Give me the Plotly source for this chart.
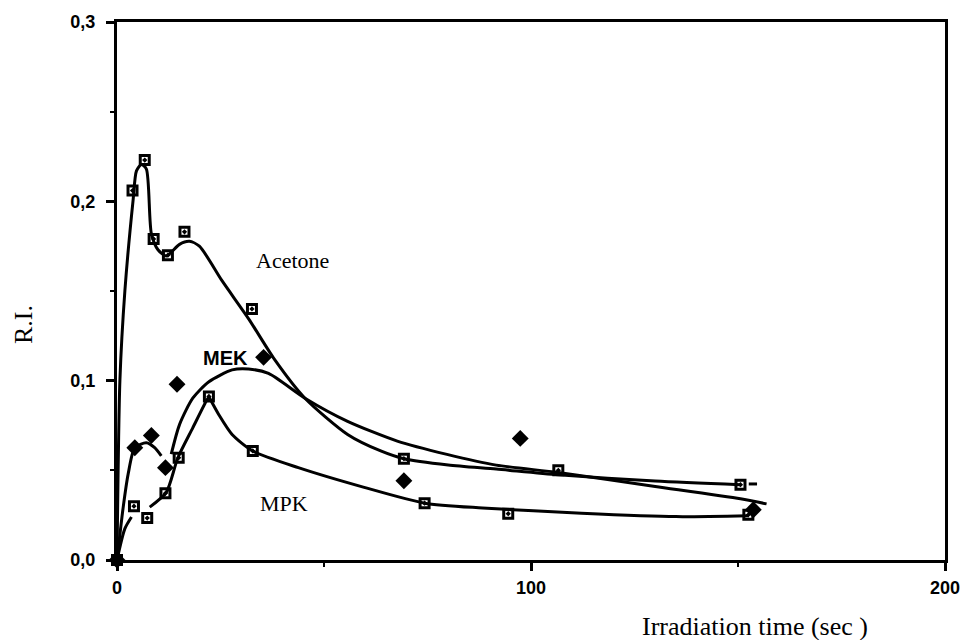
import plotly.graph_objects as go

# ---- measured data points ----
acetone_t = [0, 3.75, 6.7, 8.85, 12.3, 16.3, 32.6, 69.3, 106.6, 150.6]
acetone_ri = [0, 0.206, 0.223, 0.179, 0.170, 0.183, 0.140, 0.0565, 0.050, 0.042]

mpk_t = [0, 4.1, 7.3, 11.7, 14.9, 22.2, 32.8, 74.3, 94.5, 152.5]
mpk_ri = [0, 0.030, 0.0234, 0.0372, 0.057, 0.0912, 0.0608, 0.0317, 0.0258, 0.0252]

mek_t = [0, 4.3, 8.3, 11.7, 14.5, 35.4, 69.3, 97.4, 153.7]
mek_ri = [0, 0.0626, 0.0694, 0.0515, 0.098, 0.113, 0.0442, 0.0678, 0.028]

# ---- hand-drawn fitted curves ----
acetone_fit_t = [0, 0.7, 1.9, 3.9, 4.7, 5.9, 7.1, 8.3, 9.9, 11.9, 15.1, 17.5, 19.9,
                 25.4, 31.8, 38, 45.4, 55.7, 63.7, 69.3, 80, 91.6, 106.6, 130, 150.6,
                 None, 152.6, 154.6]
acetone_fit_ri = [0, 0.10, 0.150, 0.201, 0.217, 0.2206, 0.218, 0.182, 0.173, 0.1695,
                  0.176, 0.1777, 0.175, 0.1556, 0.1345, 0.112, 0.0902, 0.070, 0.0608,
                  0.0565, 0.053, 0.0507, 0.0475, 0.044, 0.042,
                  None, 0.0424, 0.0424]

mek_fit_t = [0, 1.5, 2.7, 4.3, 7.1, 9.1, 10.7, None,
             13.1, 15.1, 18.3, 22.2, 27.8, 31.8, 36.6, 45.4, 55.7, 67.7, 79.7,
             91.6, 106.6, 130, 150.6, 156.9]
mek_fit_ri = [0, 0.0295, 0.048, 0.0626, 0.0654, 0.0626, 0.058, None,
              0.059, 0.0755, 0.0902, 0.0994, 0.106, 0.1065, 0.104, 0.0902, 0.0773,
              0.0663, 0.0589, 0.0529, 0.0488, 0.041, 0.0341, 0.0313]

mpk_fit_t = [0, 1.9, 3.5, None,
             7.9, 11.9, 14.7, 18.3, 21.5, 22.2, None,
             22.2, 24.6, 27.8, 32.8, 43.8, 59.7, 74.3, 88.3, 112.2, 135, 152.5]
mpk_fit_ri = [0, 0.0175, 0.024, None,
              0.0295, 0.0377, 0.057, 0.0737, 0.0884, 0.091, None,
              0.091, 0.081, 0.070, 0.0608, 0.0515, 0.0405, 0.0317, 0.0290, 0.0261,
              0.0242, 0.0247]

x_tickvals = [0, 100, 200]
x_ticktext = ["0", "100", "200"]
y_tickvals = [0.0, 0.1, 0.2, 0.3]
y_ticktext = ["0,0", "0,1", "0,2", "0,3"]

SERIF = "Liberation Serif, Times New Roman, serif"
SANS = "Liberation Sans, Arial, sans-serif"

W, H = 972, 640
ml, mr, mt, mb = 117, 19, 17, 80
pw, ph = W - ml - mr, H - mt - mb

fig = go.Figure()

line_style = dict(color="black", width=3, shape="spline", smoothing=0.7)
for xs, ys in [(acetone_fit_t, acetone_fit_ri), (mek_fit_t, mek_fit_ri), (mpk_fit_t, mpk_fit_ri)]:
    fig.add_trace(go.Scatter(x=xs, y=ys, mode="lines", line=line_style,
                             connectgaps=False, showlegend=False, hoverinfo="skip"))

sq = dict(symbol="square-open-dot", size=9, color="black", line=dict(color="black", width=3))
fig.add_trace(go.Scatter(x=acetone_t, y=acetone_ri, mode="markers", marker=sq,
                         name="Acetone", showlegend=False, cliponaxis=False))
fig.add_trace(go.Scatter(x=mpk_t, y=mpk_ri, mode="markers", marker=sq,
                         name="MPK", showlegend=False, cliponaxis=False))
fig.add_trace(go.Scatter(x=mek_t, y=mek_ri, mode="markers",
                         marker=dict(symbol="diamond", size=13, color="black"),
                         name="MEK", showlegend=False, cliponaxis=False))

fig.add_annotation(x=42.4, y=0.1669, xref="x", yref="y", text="Acetone", showarrow=False,
                   font=dict(family=SERIF, size=22, color="black"))
fig.add_annotation(x=26.1, y=0.1127, xref="x", yref="y", text="<b>MEK</b>", showarrow=False,
                   font=dict(family=SANS, size=20, color="black"))
fig.add_annotation(x=40.4, y=0.0315, xref="x", yref="y", text="MPK", showarrow=False,
                   font=dict(family=SERIF, size=22, color="black"))

# pixel-positioned titles converted to paper coordinates
fig.add_annotation(x=(761 - ml) / pw, y=(H - mb - 627) / ph, xref="paper", yref="paper",
                   xanchor="center", yanchor="middle", text="Irradiation time (sec )",
                   showarrow=False, font=dict(family=SERIF, size=26, color="black"))
fig.add_annotation(x=(22 - ml) / pw, y=(H - mb - 322) / ph, xref="paper", yref="paper",
                   xanchor="center", yanchor="middle", text="R.I.", textangle=-90,
                   showarrow=False, font=dict(family=SERIF, size=26, color="black"))

fig.update_layout(
    width=W, height=H,
    margin=dict(l=ml, r=mr, t=mt, b=mb),
    paper_bgcolor="white", plot_bgcolor="white",
    xaxis=dict(range=[0, 200], tickvals=x_tickvals, ticktext=x_ticktext,
               showgrid=False, zeroline=False, showline=True, mirror=True,
               linecolor="black", linewidth=3, ticks="outside", ticklen=8,
               tickwidth=2.5, tickcolor="black", ticklabelstandoff=1,
               ticklabeloverflow="allow",
               tickfont=dict(family=SANS, size=18, color="black", weight="bold"),
               minor=dict(tickvals=[50, 150], ticks="outside", ticklen=4,
                          tickwidth=2, tickcolor="black")),
    yaxis=dict(range=[0, 0.3], tickvals=y_tickvals, ticktext=y_ticktext,
               showgrid=False, zeroline=False, showline=True, mirror=True,
               linecolor="black", linewidth=3, ticks="outside", ticklen=8,
               tickwidth=2.5, tickcolor="black", ticklabelstandoff=7,
               ticklabeloverflow="allow",
               tickfont=dict(family=SANS, size=18, color="black", weight="bold"),
               minor=dict(tickvals=[0.05, 0.15, 0.25], ticks="outside", ticklen=4,
                          tickwidth=2, tickcolor="black")),
)

fig.write_html("out.html")
